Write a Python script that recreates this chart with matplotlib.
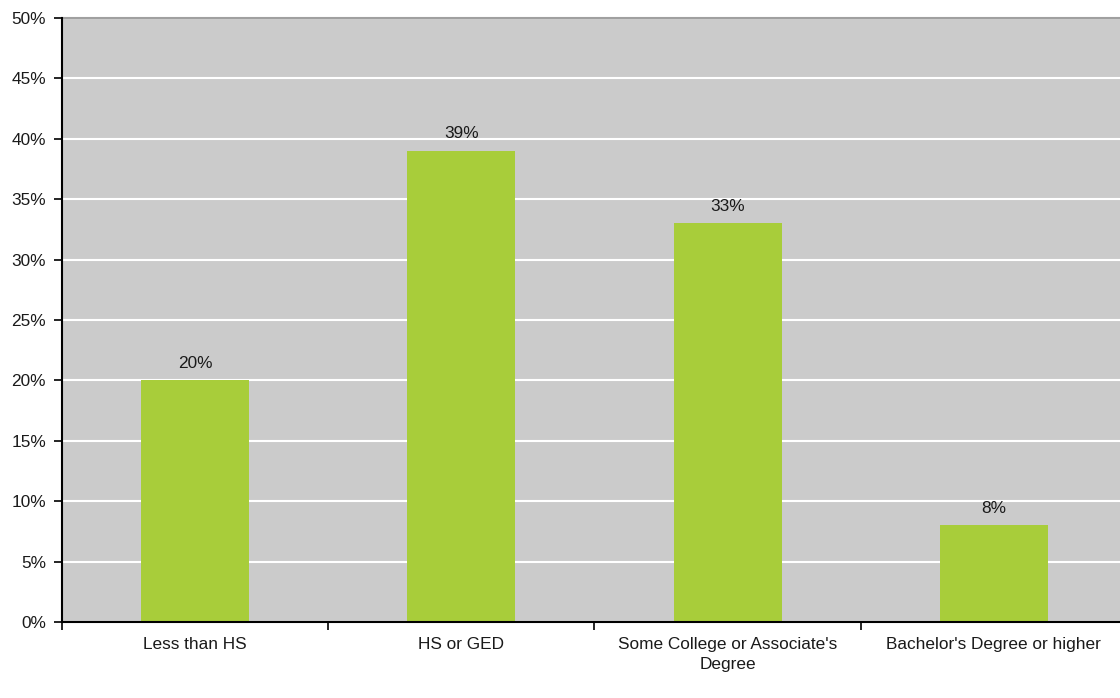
import matplotlib
matplotlib.use("Agg")
import matplotlib.pyplot as plt
from matplotlib.ticker import FuncFormatter, FixedLocator

categories = ["Less than HS", "HS or GED", "Some College or Associate's\nDegree",
              "Bachelor's Degree or higher"]
values = [20, 39, 33, 8]
y_ticks = [0, 5, 10, 15, 20, 25, 30, 35, 40, 45, 50]

plt.rcParams['font.family'] = ['Liberation Sans', 'DejaVu Sans']
FS = 12.4

fig = plt.figure(figsize=(11.2, 6.98), dpi=100)
ax = fig.add_axes([62 / 1120, 76 / 698, 1065 / 1120, 604 / 698])

ax.set_facecolor("#CBCBCB")
x = list(range(len(categories)))
ax.bar(x, values, width=0.405, color="#A8CD3A", zorder=3)

for xi, v in zip(x, values):
    ax.text(xi, v + 0.8, f"{v}%", ha="center", va="bottom", fontsize=FS,
            color="#1a1a1a", zorder=4)

ax.set_xlim(-0.5, len(categories) - 0.5)
ax.set_ylim(0, 50)
ax.set_yticks(y_ticks)
ax.yaxis.set_major_formatter(FuncFormatter(lambda v, p: f"{int(v)}%"))
ax.grid(axis="y", color="white", linewidth=1.5, zorder=1)

# category labels centered, tick marks at category boundaries
ax.set_xticks(x)
ax.set_xticklabels(categories, fontsize=FS, color="#1a1a1a", linespacing=1.4)
ax.tick_params(axis="x", which="major", length=0, pad=11)
ax.xaxis.set_minor_locator(FixedLocator([i + 0.5 for i in range(-1, len(categories))]))
ax.tick_params(axis="x", which="minor", length=6, width=1.2, color="black")
ax.tick_params(axis="y", length=6, width=1.2, labelsize=FS, labelcolor="#1a1a1a", pad=5.5)

for s in ["left", "bottom"]:
    ax.spines[s].set_color("black")
    ax.spines[s].set_linewidth(1.5)
    ax.spines[s].set_zorder(5)
ax.spines["top"].set_color("#A0A0A0")
ax.spines["top"].set_linewidth(1.5)
ax.spines["right"].set_visible(False)

fig.savefig("out.png", dpi=100)
